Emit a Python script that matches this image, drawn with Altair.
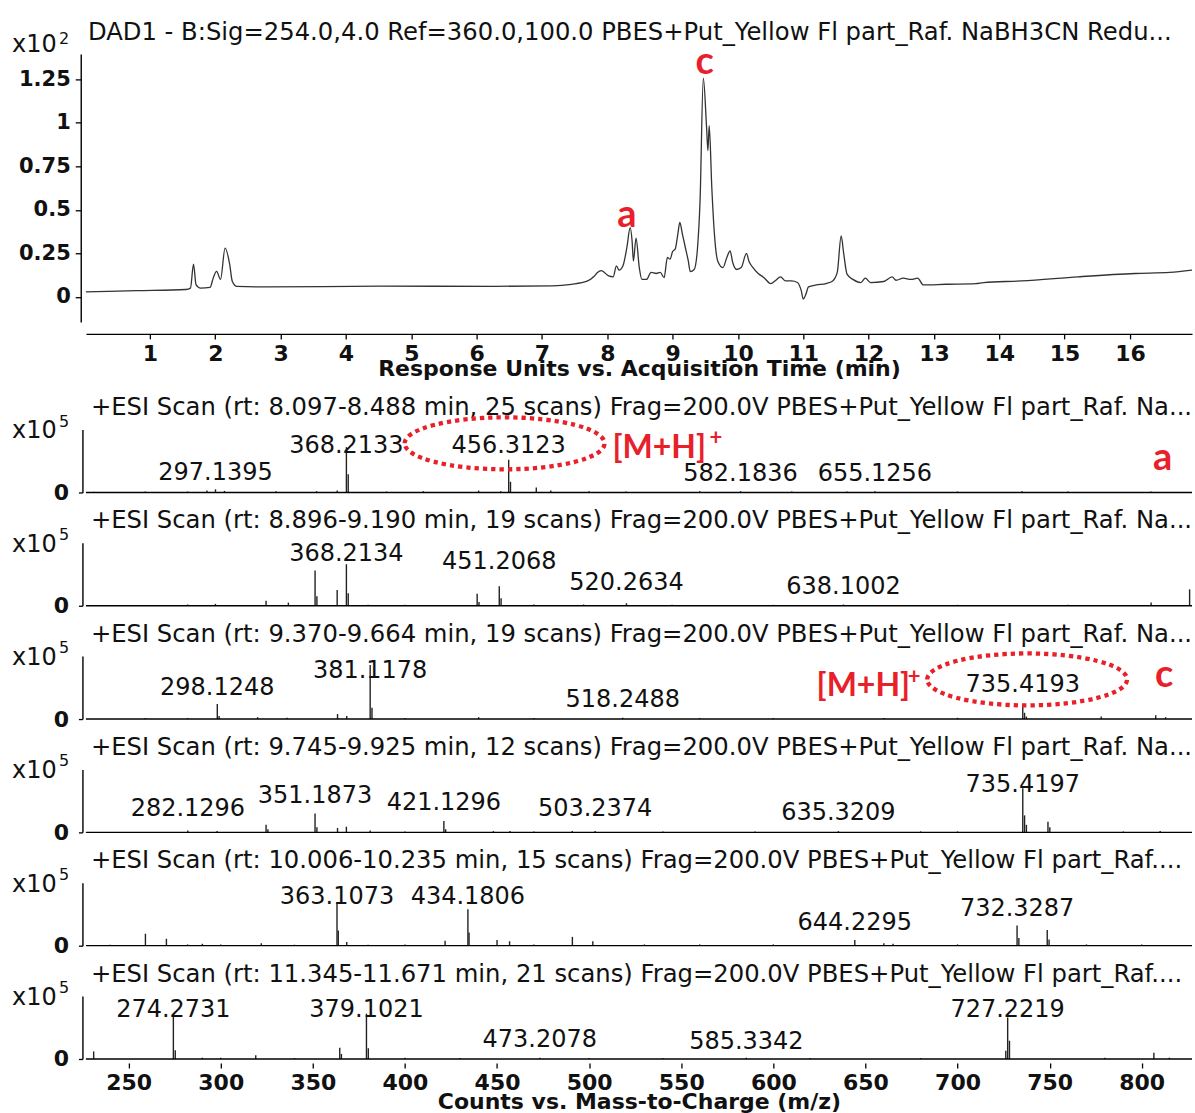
import altair as alt
import pandas as pd

FONT = "DejaVu Sans"
TAG_FONT = "Lato"
RED = "#e8202a"
INK = "#111111"

PLOT_W = 1107
TOP_H = 324.6
MS_H = 63
GAP = 50.4

# ---------------- DAD1 chromatogram (response in x10^2 units) ----------------
dad_title = "DAD1 - B:Sig=254.0,4.0 Ref=360.0,100.0 PBES+Put_Yellow Fl part_Raf. NaBH3CN Redu..."
rt_min = [0.02, 0.80, 1.55, 1.62, 1.667, 1.705, 1.775, 1.92, 1.97, 2.02, 2.08, 2.15, 2.22, 2.26,
          2.33, 2.77, 4.53, 6.28, 7.16, 7.45, 7.69, 7.80, 7.85, 7.91, 8.02, 8.09, 8.14, 8.18,
          8.24, 8.30, 8.35, 8.38, 8.40, 8.44, 8.49, 8.53, 8.60, 8.67, 8.75, 8.81, 8.87, 8.92,
          8.96, 9.00, 9.04, 9.08, 9.11, 9.15, 9.19, 9.24, 9.27, 9.33, 9.38, 9.42, 9.47, 9.52,
          9.54, 9.56, 9.60, 9.64, 9.69, 9.77, 9.83, 9.88, 9.92, 9.98, 10.05, 10.13, 10.17,
          10.23, 10.31, 10.40, 10.50, 10.58, 10.65, 10.73, 10.82, 10.91, 10.97, 11.00, 11.04,
          11.08, 11.20, 11.35, 11.45, 11.52, 11.58, 11.62, 11.67, 11.76, 11.88, 11.95, 12.03,
          12.23, 12.36, 12.42, 12.53, 12.65, 12.75, 12.84, 13.18, 13.64, 13.76, 14.34, 15.21,
          16.08, 16.61, 16.95]
response = [0.028, 0.035, 0.042, 0.05, 0.188, 0.07, 0.05, 0.054, 0.11, 0.146, 0.10, 0.28, 0.188,
            0.09, 0.06, 0.057, 0.061, 0.06, 0.063, 0.072, 0.09, 0.118, 0.14, 0.15, 0.12, 0.115,
            0.178, 0.153, 0.178, 0.283, 0.397, 0.32, 0.206, 0.337, 0.168, 0.10, 0.10, 0.14,
            0.134, 0.14, 0.11, 0.226, 0.216, 0.26, 0.275, 0.36, 0.427, 0.36, 0.292, 0.206,
            0.145, 0.157, 0.275, 0.55, 1.256, 0.973, 0.84, 0.983, 0.627, 0.36, 0.206, 0.168,
            0.226, 0.264, 0.197, 0.157, 0.168, 0.249, 0.203, 0.168, 0.134, 0.11, 0.076, 0.095,
            0.115, 0.091, 0.091, 0.082, 0.034, -0.013, 0.015, 0.057, 0.068, 0.076, 0.091, 0.14,
            0.35, 0.245, 0.13, 0.10, 0.082, 0.107, 0.082, 0.088, 0.115, 0.095, 0.107, 0.10,
            0.107, 0.068, 0.072, 0.076, 0.082, 0.091, 0.115, 0.134, 0.14, 0.153]
dad_tags = ["a", "c"]
dad_tag_rt = [8.30, 9.49]
dad_tag_resp = [0.465, 1.343]

time_ticks = list(range(1, 17))
resp_ticks = [0, 0.25, 0.5, 0.75, 1, 1.25]
mz_ticks = list(range(250, 801, 50))

# ---------------- ESI scans (counts in x10^5 units) ----------------
scan_titles = [
    "+ESI Scan (rt: 8.097-8.488 min, 25 scans) Frag=200.0V PBES+Put_Yellow Fl part_Raf. Na...",
    "+ESI Scan (rt: 8.896-9.190 min, 19 scans) Frag=200.0V PBES+Put_Yellow Fl part_Raf. Na...",
    "+ESI Scan (rt: 9.370-9.664 min, 19 scans) Frag=200.0V PBES+Put_Yellow Fl part_Raf. Na...",
    "+ESI Scan (rt: 9.745-9.925 min, 12 scans) Frag=200.0V PBES+Put_Yellow Fl part_Raf. Na...",
    "+ESI Scan (rt: 10.006-10.235 min, 15 scans) Frag=200.0V PBES+Put_Yellow Fl part_Raf....",
    "+ESI Scan (rt: 11.345-11.671 min, 21 scans) Frag=200.0V PBES+Put_Yellow Fl part_Raf....",
]

peak_mz = [
    [231.0, 259.0, 282.0, 292.5, 297.1395, 302.0, 330.0, 352.0, 363.2, 368.2133, 369.2, 390.0,
     410.0, 440.0, 452.0, 456.3123, 457.3, 471.3, 479.2, 500.0, 520.0, 560.0, 582.1836, 610.0,
     640.0, 655.1256, 700.0, 735.0, 760.0, 805.0],
    [282.0, 297.1, 324.6, 336.7, 351.2, 352.2, 363.2, 368.2134, 369.2, 380.0, 400.0, 439.2,
     440.2, 451.2068, 452.2, 470.0, 497.0, 520.2634, 545.0, 600.0, 638.1002, 700.0, 760.0,
     805.1, 826.0],
    [259.0, 282.0, 298.1248, 299.1, 320.0, 336.0, 363.4, 368.4, 381.1178, 382.1, 400.0, 440.0,
     470.0, 518.2488, 560.0, 600.0, 660.0, 700.0, 735.4193, 736.4, 737.4, 778.0, 807.6, 813.0],
    [282.1296, 298.0, 324.6, 325.6, 351.1873, 352.2, 363.4, 368.2, 381.1, 400.0, 421.1296,
     422.1, 448.0, 457.0, 470.0, 490.8, 503.2374, 540.0, 590.0, 635.3209, 680.0, 700.0,
     735.4197, 736.4, 737.4, 749.1, 750.1, 790.0, 810.0],
    [240.0, 259.1, 270.5, 282.0, 290.0, 300.0, 322.0, 340.0, 363.1073, 363.8, 368.4, 380.0,
     400.0, 421.8, 434.1806, 434.8, 450.0, 456.8, 470.0, 490.9, 502.0, 530.0, 560.0, 600.0,
     644.2295, 660.0, 665.0, 700.0, 732.3287, 733.3, 748.7, 749.7, 770.0, 800.0],
    [231.0, 274.2731, 275.3, 290.0, 300.0, 319.0, 340.0, 364.6, 365.5, 379.1021, 380.1, 400.0,
     430.0, 473.2078, 500.0, 540.0, 585.3342, 620.0, 680.0, 726.2, 727.2219, 728.2, 780.0,
     806.6, 815.0],
]
peak_int = [
    [0.01, 0.015, 0.015, 0.03, 0.05, 0.025, 0.02, 0.02, 0.03, 0.72, 0.29, 0.015, 0.02, 0.03,
     0.02, 0.52, 0.17, 0.08, 0.03, 0.02, 0.015, 0.02, 0.02, 0.015, 0.015, 0.02, 0.015, 0.02,
     0.015, 0.015],
    [0.02, 0.03, 0.08, 0.05, 0.56, 0.15, 0.25, 0.66, 0.20, 0.015, 0.015, 0.19, 0.06, 0.31,
     0.12, 0.02, 0.02, 0.04, 0.015, 0.015, 0.02, 0.015, 0.015, 0.05, 0.26],
    [0.015, 0.015, 0.24, 0.05, 0.03, 0.02, 0.08, 0.05, 0.86, 0.18, 0.015, 0.03, 0.015, 0.02,
     0.015, 0.015, 0.015, 0.02, 0.24, 0.10, 0.04, 0.04, 0.06, 0.03],
    [0.03, 0.02, 0.12, 0.05, 0.30, 0.08, 0.07, 0.09, 0.03, 0.015, 0.18, 0.05, 0.02, 0.02,
     0.015, 0.02, 0.02, 0.015, 0.015, 0.02, 0.015, 0.015, 0.70, 0.27, 0.12, 0.17, 0.08, 0.015,
     0.02],
    [0.015, 0.19, 0.11, 0.02, 0.03, 0.02, 0.04, 0.015, 0.69, 0.24, 0.06, 0.015, 0.02, 0.08,
     0.58, 0.21, 0.09, 0.07, 0.02, 0.14, 0.07, 0.02, 0.02, 0.02, 0.09, 0.04, 0.03, 0.02, 0.32,
     0.12, 0.25, 0.10, 0.02, 0.02],
    [0.12, 0.71, 0.14, 0.02, 0.02, 0.06, 0.015, 0.18, 0.08, 0.72, 0.17, 0.02, 0.015, 0.02,
     0.015, 0.015, 0.02, 0.015, 0.015, 0.13, 0.66, 0.29, 0.02, 0.10, 0.02],
]

# labelled m/z values and the height at which each label sits
label_mz = [
    [297.1395, 368.2133, 456.3123, 582.1836, 655.1256],
    [368.2134, 451.2068, 520.2634, 638.1002],
    [298.1248, 381.1178, 518.2488, 735.4193],
    [282.1296, 351.1873, 421.1296, 503.2374, 635.3209, 735.4197],
    [363.1073, 434.1806, 644.2295, 732.3287],
    [274.2731, 379.1021, 473.2078, 585.3342, 727.2219],
]
label_level = [
    [0.31, 0.74, 0.74, 0.29, 0.29],
    [0.82, 0.70, 0.36, 0.29],
    [0.50, 0.77, 0.30, 0.54],
    [0.37, 0.58, 0.46, 0.37, 0.30, 0.75],
    [0.77, 0.77, 0.36, 0.58],
    [0.78, 0.78, 0.30, 0.27, 0.78],
]

# [M+H]+ call-outs (scan index, ring centre, text positions) and scan tags
mh_scan = [0, 2]
mh_ring_mz = [454.1, 737.8]
mh_ring_level = [0.78, 0.63]
mh_text_mz = [512.7, 623.5]
mh_text_level = [0.71, 0.53]
mh_plus_mz = [568.8, 676.4]
mh_plus_level = [0.87, 0.67]
scan_tag_scan = [0, 2]
scan_tag_text = ["a", "c"]
scan_tag_mz = [811.3, 812.2]
scan_tag_level = [0.53, 0.68]

MZ_LO, MZ_HI = 226.8, 827.3

# dotted ring drawn as a custom symbol (unit box, x in [-1, 1])
RING = ("M -1 0 C -1 -0.1436 -0.5523 -0.26 0 -0.26 C 0.5523 -0.26 1 -0.1436 1 0 "
        "C 1 0.1436 0.5523 0.26 0 0.26 C -0.5523 0.26 -1 0.1436 -1 0 Z")

HEAD_SIZE = 24.3


def text_df(s):
    return pd.DataFrame({"txt": [s]})


def exponent_layers(power, y_base, y_sup):
    base = alt.Chart(text_df("x10")).mark_text(
        font=FONT, fontSize=24, color=INK, align="left", baseline="middle"
    ).encode(x=alt.value(-74), y=alt.value(y_base), text="txt:N")
    sup = alt.Chart(text_df(power)).mark_text(
        font=FONT, fontSize=16, color=INK, align="left", baseline="middle"
    ).encode(x=alt.value(-27), y=alt.value(y_sup), text="txt:N")
    return [base, sup]


# ---------------- chromatogram panel ----------------
t_scale = alt.Scale(domain=[0.02, 16.95], nice=False, zero=False)
r_scale = alt.Scale(domain=[-0.471, 1.393], nice=False, zero=False)

t_axis = alt.Axis(
    values=time_ticks, format="d", offset=-44.9, domainColor="black", domainWidth=1.4,
    tickColor="black", tickWidth=1.3, tickSize=5,
    labelFont=FONT, labelFontSize=22, labelFontWeight="bold", labelColor=INK,
    labelBaseline="middle", labelPadding=14.5, labelFlush=False, labelOverlap=False,
    title="Response Units vs. Acquisition Time (min)", titleFont=FONT, titleFontSize=22,
    titleFontWeight="bold", titleColor=INK, titleBaseline="middle", titleY=35, grid=False,
)
r_axis = alt.Axis(
    values=resp_ticks, format=".2~f", domain=False, offset=4.7,
    tickColor="black", tickWidth=1.3, tickSize=6,
    labelFont=FONT, labelFontSize=21, labelFontWeight="bold", labelColor=INK,
    labelPadding=5, title=None, grid=False,
)


def tx():
    return alt.X("t:Q", scale=t_scale, axis=t_axis)


def ry():
    return alt.Y("v:Q", scale=r_scale, axis=r_axis)


chrom = pd.DataFrame({"t": rt_min, "v": response})
trace = alt.Chart(chrom).mark_line(
    color="#333333", strokeWidth=1.3, interpolate="monotone"
).encode(x=tx(), y=ry())

r_axis_line = alt.Chart(pd.DataFrame({"v": [-0.148], "v2": [1.393]})).mark_rule(
    color="black", strokeWidth=1.4
).encode(x=alt.value(-4.7), y=ry(), y2="v2:Q")

dad_tag = alt.Chart(pd.DataFrame({"t": dad_tag_rt, "v": dad_tag_resp, "txt": dad_tags})).mark_text(
    font=TAG_FONT, fontSize=38, fontWeight="bold", color=RED, baseline="middle"
).encode(x=tx(), y=ry(), text="txt:N")

dad_head = alt.Chart(text_df(dad_title)).mark_text(
    font=FONT, fontSize=HEAD_SIZE, color=INK, align="left", baseline="middle"
).encode(x=alt.value(2), y=alt.value(-21.3), text="txt:N")

top = alt.layer(
    trace, r_axis_line, dad_tag, dad_head, *exponent_layers("2", -9.3, -15.5)
).properties(width=PLOT_W, height=TOP_H)

# ---------------- mass spectrum panels ----------------
mz_scale = alt.Scale(domain=[MZ_LO, MZ_HI], nice=False, zero=False)
i_scale = alt.Scale(domain=[0, 1], nice=False, zero=False)

i_axis = alt.Axis(
    values=[0], format="d", domainColor="black", domainWidth=1.4, offset=3.5,
    tickColor="black", tickWidth=1.3, tickSize=4,
    labelFont=FONT, labelFontSize=22, labelFontWeight="bold", labelColor=INK,
    labelPadding=10, title=None, grid=False,
)
mz_axis = alt.Axis(
    values=mz_ticks, format="d", domain=False, offset=4,
    tickColor="black", tickWidth=1.3, tickSize=5,
    labelFont=FONT, labelFontSize=22, labelFontWeight="bold", labelColor=INK,
    labelBaseline="middle", labelPadding=15, labelFlush=False, labelOverlap=False,
    title="Counts vs. Mass-to-Charge (m/z)", titleFont=FONT, titleFontSize=22,
    titleFontWeight="bold", titleColor=INK, titleBaseline="middle", titleY=39, grid=False,
)


def scan_panel(k):
    last = k == len(scan_titles) - 1

    def mx():
        return alt.X("mz:Q", scale=mz_scale, axis=mz_axis if last else None)

    def iy():
        return alt.Y("I:Q", scale=i_scale, axis=i_axis)

    peaks = pd.DataFrame({"mz": peak_mz[k], "I": peak_int[k], "base": 0.0})
    sticks = alt.Chart(peaks).mark_rule(color="#222222", strokeWidth=1.4).encode(
        x=mx(), y=iy(), y2="base:Q"
    )
    baseline = alt.Chart(pd.DataFrame({"mz": [MZ_LO], "mz2": [MZ_HI], "I": [0.0]})).mark_rule(
        color="black", strokeWidth=1.4
    ).encode(x=mx(), x2="mz2:Q", y=iy())
    labels = alt.Chart(pd.DataFrame({
        "mz": label_mz[k], "I": label_level[k],
        "txt": [f"{m:.4f}" for m in label_mz[k]],
    })).mark_text(font=FONT, fontSize=24, color=INK, baseline="middle").encode(
        x=mx(), y=iy(), text="txt:N"
    )
    head = alt.Chart(text_df(scan_titles[k])).mark_text(
        font=FONT, fontSize=HEAD_SIZE, color=INK, align="left", baseline="middle"
    ).encode(x=alt.value(5), y=alt.value(-21.5), text="txt:N")

    layers = [sticks, baseline, labels, head, *exponent_layers("5", 2, -8)]

    if k in mh_scan:
        j = mh_scan.index(k)
        ring = alt.Chart(pd.DataFrame({"mz": [mh_ring_mz[j]], "I": [mh_ring_level[j]]})).mark_point(
            shape=RING, size=40000, filled=False, stroke=RED, strokeWidth=4.3,
            strokeDash=[4.3, 4], opacity=1,
        ).encode(x=mx(), y=iy())
        mh = alt.Chart(pd.DataFrame({"mz": [mh_text_mz[j]], "I": [mh_text_level[j]], "txt": ["[M+H]"]})).mark_text(
            font=TAG_FONT, fontSize=32, fontWeight="bold", color=RED, align="left", baseline="middle"
        ).encode(x=mx(), y=iy(), text="txt:N")
        plus = alt.Chart(pd.DataFrame({"mz": [mh_plus_mz[j]], "I": [mh_plus_level[j]], "txt": ["+"]})).mark_text(
            font=TAG_FONT, fontSize=22, fontWeight="bold", color=RED, baseline="middle"
        ).encode(x=mx(), y=iy(), text="txt:N")
        layers += [ring, mh, plus]

    if k in scan_tag_scan:
        j = scan_tag_scan.index(k)
        tag = alt.Chart(pd.DataFrame({"mz": [scan_tag_mz[j]], "I": [scan_tag_level[j]], "txt": [scan_tag_text[j]]})).mark_text(
            font=TAG_FONT, fontSize=38, fontWeight="bold", color=RED, baseline="middle"
        ).encode(x=mx(), y=iy(), text="txt:N")
        layers.append(tag)

    return alt.layer(*layers).properties(width=PLOT_W, height=MS_H)


panels = [scan_panel(k) for k in range(len(scan_titles))]

chart = alt.vconcat(top, *panels, spacing=GAP, bounds="flush").properties(
    padding={"left": 12, "top": 20, "right": 0, "bottom": 0},
    background="white",
).configure_view(stroke=None)

chart.save("out.html", embed_options={"renderer": "svg", "actions": False})
